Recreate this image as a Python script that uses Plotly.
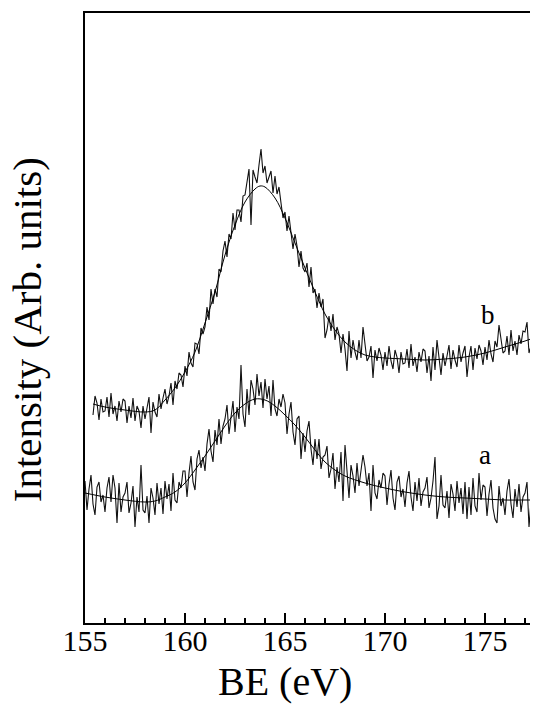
import plotly.graph_objects as go

# ---------------- data ----------------
BE_STEP = 0.1

# spectrum b (upper), starts at 155.4 eV, 0.1 eV steps
b_start = 155.4
b_counts = [
    208, 227, 220, 203, 224, 211,
    212, 226, 206, 230, 209, 217, 202, 222, 211, 224,
    222, 200, 217, 205, 225, 202, 217, 212, 195, 217,
    204, 214, 226, 190, 221, 211, 206, 229, 214, 225,
    234, 219, 227, 240, 218, 242, 234, 250, 248, 236,
    257, 247, 271, 260, 256, 280, 279, 269, 295, 289,
    296, 316, 303, 334, 319, 334, 326, 354, 351, 372,
    382, 366, 389, 384, 410, 393, 413, 413, 401, 427,
    428, 441, 454, 398, 453, 446, 440, 458, 474, 450,
    457, 440, 446, 452, 430, 447, 429, 436, 420, 405,
    411, 392, 407, 387, 374, 389, 377, 356, 372, 355,
    351, 360, 336, 356, 330, 334, 315, 330, 316, 324,
    285, 293, 307, 292, 309, 283, 296, 289, 270, 289,
    274, 252, 292, 265, 283, 271, 263, 283, 265, 296,
    279, 262, 266, 277, 245, 273, 262, 275, 268, 253,
    271, 257, 277, 262, 254, 273, 266, 250, 271, 259,
    260, 274, 255, 279, 257, 266, 251, 271, 261, 274,
    272, 250, 267, 242, 276, 253, 283, 265, 248, 270,
    257, 267, 278, 254, 273, 263, 256, 278, 261, 270,
    277, 246, 266, 277, 253, 275, 264, 278, 272, 258,
    276, 263, 283, 269, 261, 282, 276, 298, 282, 270,
    272, 287, 268, 293, 272, 282, 268, 288, 279, 292,
    291, 301, 270, 277, 298, 275, 291, 290,
]

# spectrum a (lower), starts at 155.0 eV, 0.1 eV steps
a_start = 155.0
a_counts = [
    142, 113, 134, 148, 119, 108, 136, 141, 121, 128,
    111, 135, 146, 121, 148, 135, 100, 140, 111, 126,
    130, 141, 110, 120, 137, 96, 126, 111, 158, 113,
    110, 127, 100, 135, 125, 108, 140, 119, 135, 109,
    142, 124, 139, 112, 150, 123, 120, 141, 135, 152,
    152, 126, 150, 167, 141, 133, 164, 173, 155, 166,
    152, 179, 194, 172, 161, 193, 178, 204, 179, 197,
    204, 218, 189, 203, 222, 191, 216, 204, 258, 209,
    196, 234, 208, 243, 234, 218, 249, 227, 241, 215,
    244, 224, 237, 207, 243, 214, 207, 224, 216, 229,
    220, 189, 209, 221, 191, 178, 204, 207, 164, 190,
    171, 192, 202, 174, 158, 184, 164, 184, 154, 166,
    168, 177, 145, 154, 170, 134, 156, 141, 171, 122,
    178, 152, 125, 158, 147, 130, 160, 137, 152, 168,
    156, 137, 150, 112, 158, 130, 124, 143, 135, 150,
    147, 118, 139, 153, 125, 113, 141, 147, 126, 134,
    116, 140, 152, 126, 112, 141, 122, 145, 117, 131,
    135, 146, 115, 125, 142, 166, 104, 117, 148, 118,
    115, 132, 105, 139, 129, 112, 142, 120, 135, 109,
    141, 104, 136, 108, 145, 117, 111, 150, 123, 138,
    136, 107, 129, 143, 115, 104, 100, 137, 117, 125,
    108, 132, 144, 119, 105, 134, 116, 139, 111, 126,
    130, 141, 96, 121, 146, 104, 127, 113,
]

# fitted curves (knots)
b_fit_be = [155.4, 156, 157, 158, 158.5, 159, 159.5, 160, 160.5, 161, 161.5, 162, 162.5,
            163, 163.5, 163.75, 164, 164.5, 165, 165.5, 166, 166.5, 167, 167.5, 168,
            168.5, 169, 169.5, 170, 171, 172, 173, 174, 175, 176, 177, 177.7]
b_fit = [219, 216, 213, 211, 213, 223, 235, 251, 271, 300, 331, 368, 398,
         421, 434, 437, 436, 425, 405, 380, 355, 331, 309, 293, 281,
         273, 268, 266, 265, 264, 263, 264, 266, 270, 276, 282, 287]

a_fit_be = [155.0, 156, 157, 158, 158.5, 159, 159.5, 160, 160.5, 161, 161.5, 162, 162.5,
            163, 163.5, 164, 164.5, 165, 165.5, 166, 166.5, 167, 167.5, 168,
            169, 170, 171, 172, 173, 174, 175, 176, 177, 177.7]
a_fit = [130, 126, 123, 121, 122, 126, 131, 140, 153, 167, 182, 197, 210,
         219, 224, 223, 217, 208, 198, 186, 173, 161, 153, 147,
         140, 135, 131, 128, 126, 125, 124, 123, 123, 123]

labels = ["a", "b"]
label_be = [175.0, 175.15]
label_y = [168, 308]

x_ticks = [155, 160, 165, 170, 175]
x_title = "BE (eV)"
x_title_be = 165.0
y_title = "Intensity (Arb. units)"

# ---------------- figure ----------------
FONT = "Liberation Serif, Times New Roman, serif"


def grid(start, n):
    return [round(start + i * BE_STEP, 2) for i in range(n)]


fig = go.Figure()
fig.add_trace(go.Scatter(x=grid(b_start, len(b_counts)), y=b_counts, mode="lines",
                         line=dict(color="#111111", width=1.1), name="b data"))
fig.add_trace(go.Scatter(x=b_fit_be, y=b_fit, mode="lines", line_shape="spline",
                         line=dict(color="black", width=1), name="b fit"))
fig.add_trace(go.Scatter(x=grid(a_start, len(a_counts)), y=a_counts, mode="lines",
                         line=dict(color="#111111", width=1.1), name="a data"))
fig.add_trace(go.Scatter(x=a_fit_be, y=a_fit, mode="lines", line_shape="spline",
                         line=dict(color="black", width=1), name="a fit"))

for t, xx, yy in zip(labels, label_be, label_y):
    fig.add_annotation(x=xx, y=yy, text=t, showarrow=False,
                       font=dict(family=FONT, size=27, color="black"))

# axis titles
fig.add_annotation(x=x_title_be, xref="x", y=0, yref="paper", yanchor="top",
                   yshift=-34, text=x_title, showarrow=False,
                   font=dict(family=FONT, size=40, color="black"))
fig.add_annotation(x=0, xref="paper", xanchor="center", xshift=-58,
                   y=0.48, yref="paper", yanchor="middle",
                   text=y_title, textangle=-90, showarrow=False,
                   font=dict(family=FONT, size=41, color="black"))

fig.update_layout(
    width=530, height=696,
    margin=dict(l=77, r=0, t=5, b=81),
    paper_bgcolor="white", plot_bgcolor="white",
    showlegend=False,
    font=dict(family=FONT, color="black"),
    xaxis=dict(
        range=[155, 177.65], showline=True, linecolor="black", linewidth=2,
        mirror=True, ticks="inside", ticklen=10, tickwidth=1.5, tickcolor="black",
        tickvals=x_ticks, ticktext=[str(v) for v in x_ticks],
        tickfont=dict(family=FONT, size=30, color="black"),
        ticklabelstandoff=-10,
        showgrid=False, zeroline=False,
        minor=dict(dtick=1, tick0=155, ticks="inside", ticklen=5, tickwidth=1.5,
                   tickcolor="black", showgrid=False),
    ),
    yaxis=dict(
        range=[0, 610], showline=True, linecolor="black", linewidth=2,
        mirror=False, ticks="", showticklabels=False,
        showgrid=False, zeroline=False,
    ),
)

fig.write_html("out.html")
